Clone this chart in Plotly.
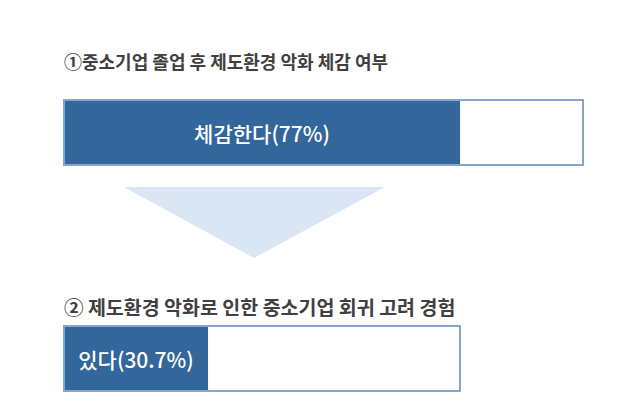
import plotly.graph_objects as go

# questions / answers
titles = ["①중소기업 졸업 후 제도환경 악화 체감 여부",
          "② 제도환경 악화로 인한 중소기업 회귀 고려 경험"]
answers = ["체감한다", "있다"]
shares = [77, 30.7]

# page puts the plot 8px in from the corner (body margin)
OFF = 8
W, H = 604, 396
FILL = "#33669a"
EDGE = "#86a6cc"
FONT = "Noto Sans CJK KR"


def px(x):
    return (x - OFF) / W


def py(y):
    return 1 - (y - OFF) / H


fig = go.Figure()

# bar 1
fig.add_trace(go.Bar(
    x=[shares[0]], y=[0], orientation="h", width=1,
    marker=dict(color=FILL, line=dict(width=0)),
    text=[f"{answers[0]}({shares[0]}%)"], textposition="inside",
    insidetextanchor="middle",
    textfont=dict(family=FONT, size=21, color="white", weight=500),
    xaxis="x", yaxis="y", hoverinfo="skip",
))
# bar 2
fig.add_trace(go.Bar(
    x=[shares[1]], y=[0], orientation="h", width=1,
    marker=dict(color=FILL, line=dict(width=0)),
    text=[f"{answers[1]}({shares[1]}%)"], textposition="inside",
    insidetextanchor="middle",
    textfont=dict(family=FONT, size=21, color="white", weight=500),
    xaxis="x2", yaxis="y2", hoverinfo="skip",
))

hidden = dict(visible=False, showgrid=False, zeroline=False, fixedrange=True)
fig.update_layout(
    width=W, height=H,
    margin=dict(l=0, r=0, t=0, b=0),
    paper_bgcolor="white", plot_bgcolor="rgba(0,0,0,0)",
    showlegend=False, barmode="overlay",
    uniformtext=dict(minsize=8, mode="show"),
    xaxis=dict(domain=[px(64), px(583)], range=[0, 100.9], anchor="y", **hidden),
    yaxis=dict(domain=[py(165), py(100)], range=[-0.5, 0.5], anchor="x", **hidden),
    xaxis2=dict(domain=[px(64), px(460)], range=[0, 84.4], anchor="y2", **hidden),
    yaxis2=dict(domain=[py(391), py(326)], range=[-0.5, 0.5], anchor="x2", **hidden),
)

# box outlines
for xr, yr in [("x", "y"), ("x2", "y2")]:
    fig.add_shape(type="rect", xref=f"{xr} domain", yref=f"{yr} domain",
                  x0=0, x1=1, y0=0, y1=1, layer="above",
                  line=dict(color=EDGE, width=2), fillcolor="rgba(0,0,0,0)")

# down arrow
fig.add_shape(type="path", xref="paper", yref="paper", layer="below",
              path=f"M {px(124)},{py(187)} L {px(385)},{py(187)} L {px(254)},{py(258)} Z",
              fillcolor="#dae6f3", line=dict(width=0))

for t, yc, sz in zip(titles, [61, 306], [18, 19.5]):
    fig.add_annotation(text=t, xref="paper", yref="paper", x=px(62), y=py(yc),
                       xanchor="left", yanchor="middle", showarrow=False,
                       font=dict(family=FONT, size=sz, color="#404040", weight=600))

fig.write_html("out.html")
